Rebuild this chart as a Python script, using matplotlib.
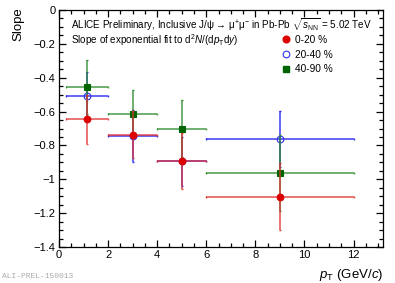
import numpy as np
import matplotlib
matplotlib.use("Agg")
import matplotlib.pyplot as plt
from matplotlib.lines import Line2D

plt.rcParams["font.family"] = ["Liberation Sans", "DejaVu Sans"]
plt.rcParams["mathtext.fontset"] = "custom"
plt.rcParams["mathtext.rm"] = "Liberation Sans"
plt.rcParams["mathtext.it"] = "Liberation Sans:italic"
plt.rcParams["mathtext.bf"] = "Liberation Sans:bold"

# pT bins (GeV/c)
pt_lo = np.array([0.3, 2.0, 4.0, 6.0])
pt_hi = np.array([2.0, 4.0, 6.0, 12.0])
pt_mean = np.array([1.15, 3.0, 5.0, 9.0])

# slopes per centrality class
slope_0_20 = np.array([-0.646, -0.737, -0.893, -1.102])
err_0_20 = np.array([0.146, 0.140, 0.165, 0.200])
slope_20_40 = np.array([-0.509, -0.744, -0.893, -0.763])
err_20_40 = np.array([0.142, 0.156, 0.145, 0.165])
slope_40_90 = np.array([-0.455, -0.614, -0.701, -0.963])
err_40_90 = np.array([0.160, 0.140, 0.167, 0.225])

labels = ["0-20 %", "20-40 %", "40-90 %"]

W, H = 395, 283
fig = plt.figure(figsize=(W / 100, H / 100), dpi=100)
ax = fig.add_axes([59 / W, 1 - 247 / H, 324 / W, 237 / H])

xerr = [pt_mean - pt_lo, pt_hi - pt_mean]

series = [
    (slope_20_40, err_20_40, "#1a1aee", "o", "none"),
    (slope_40_90, err_40_90, "#2a8a2a", "s", "#006400"),
    (slope_0_20, err_0_20, "#e03030", "o", "#dd0000"),
]
for y, e, lc, m, fc in series:
    ax.errorbar(pt_mean, y, xerr=xerr, yerr=e, fmt="none", ecolor=lc,
                elinewidth=1.1, capsize=0.8, capthick=1.0, alpha=0.85)
    mec = "#3030ee" if fc == "none" else fc
    ax.plot(pt_mean, y, linestyle="none", marker=m, ms=4.8, mfc=fc,
            mec=mec, mew=0.8)

ax.set_xlim(0, 13.2)
ax.set_ylim(-1.4, 0)
ax.set_xticks(np.arange(0, 13, 2))
ax.set_xticks(np.arange(0, 13.2, 0.5), minor=True)
ax.set_yticks(np.arange(-1.4, 0.01, 0.2))
ax.set_yticks(np.arange(-1.4, 0.01, 0.05), minor=True)
ax.set_yticklabels(["\u22121.4", "\u22121.2", "\u22121", "\u22120.8", "\u22120.6",
                    "\u22120.4", "\u22120.2", "0"])
ax.tick_params(which="both", direction="in", top=True, right=True,
               labelsize=8, width=0.9, pad=2.5)
ax.tick_params(which="major", length=5)
ax.tick_params(which="minor", length=2.8)
for s in ax.spines.values():
    s.set_linewidth(0.9)

ax.set_ylabel("Slope", fontsize=9.5)
ax.yaxis.set_label_coords(-0.108, 1.012)
ax.yaxis.label.set_ha("right")
ax.set_xlabel("$p_{\\rm T}$ (GeV/$c$)", fontsize=9.5)
ax.xaxis.set_label_coords(1.0, -0.085)
ax.xaxis.label.set_ha("right")

fig.text(71 / W, 1 - 24.5 / H,
         "ALICE Preliminary, Inclusive J/\u03c8 \u2192 \u03bc$^{+}$\u03bc$^{-}$ in Pb-Pb "
         "$\\sqrt{s_{\\rm NN}}$ = 5.02 TeV",
         fontsize=7.1, va="center", ha="left")
fig.text(71 / W, 1 - 40 / H,
         "Slope of exponential fit to d$^{2}$$N$/(d$p_{\\rm T}$d$y$)",
         fontsize=7.1, va="center", ha="left")

handles = [
    Line2D([], [], linestyle="none", marker="o", ms=4.8, mfc="#dd0000", mec="#dd0000"),
    Line2D([], [], linestyle="none", marker="o", ms=4.8, mfc="none", mec="#3030ee", mew=0.8),
    Line2D([], [], linestyle="none", marker="s", ms=4.8, mfc="#006400", mec="#006400"),
]
fig.legend(handles, labels, loc="upper left", bbox_to_anchor=(281 / W, 1 - 35 / H),
           frameon=False, fontsize=7.3, handlelength=1.0, handletextpad=0.35,
           labelspacing=0.45, borderpad=0, borderaxespad=0)

fig.text(2 / W, 1 - 277 / H, "ALI-PREL-150013", fontsize=5.8, color="#aaaaaa",
         family="Liberation Mono", va="center", ha="left")

fig.savefig("out.png", dpi=100)
